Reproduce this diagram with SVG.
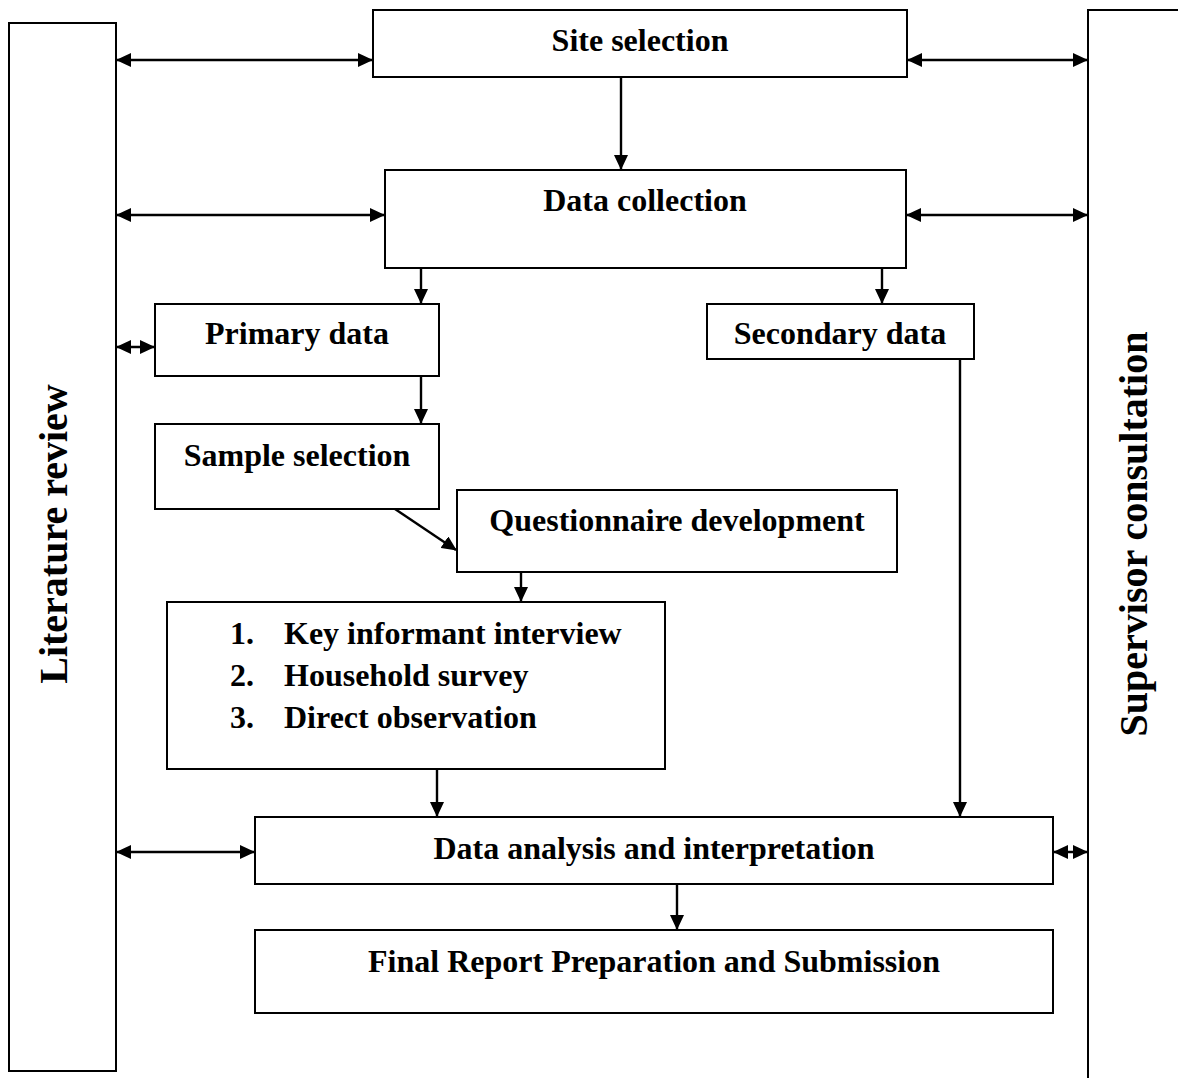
<svg xmlns="http://www.w3.org/2000/svg" width="1178" height="1078" viewBox="0 0 1178 1078">
<defs>
<marker id="ah" markerWidth="15" markerHeight="14" refX="14" refY="7" orient="auto-start-reverse" markerUnits="userSpaceOnUse">
<path d="M0,0 L15,7 L0,14 Z" fill="#000"/>
</marker>
<style>
rect{fill:#fff;stroke:#000;stroke-width:2}
text{font-family:"Liberation Serif","Times New Roman",serif;font-weight:bold;font-size:32px;fill:#000}
.c{text-anchor:middle}
.v{font-size:40px}
#connectors line{stroke:#000;stroke-width:2.4;fill:none}
</style>
</defs>
<rect x="0" y="0" width="1178" height="1078" style="stroke:none"/>
<g id="literature-review"><rect x="9" y="23" width="107" height="1048"/><text class="c v" transform="translate(67,534) rotate(-90)">Literature review</text></g>
<g id="supervisor-consultation"><rect x="1088" y="10" width="120" height="1090"/><text class="c v" transform="translate(1147,534) rotate(-90)">Supervisor consultation</text></g>
<g id="site-selection"><rect x="373" y="10" width="534" height="67"/><text class="c" x="640" y="51">Site selection</text></g>
<g id="data-collection"><rect x="385" y="170" width="521" height="98"/><text class="c" x="645" y="211">Data collection</text></g>
<g id="primary-data"><rect x="155" y="304" width="284" height="72"/><text class="c" x="297" y="344">Primary data</text></g>
<g id="secondary-data"><rect x="707" y="304" width="267" height="55"/><text class="c" x="840" y="344">Secondary data</text></g>
<g id="sample-selection"><rect x="155" y="424" width="284" height="85"/><text class="c" x="297" y="466">Sample selection</text></g>
<g id="questionnaire-development"><rect x="457" y="490" width="440" height="82"/><text class="c" x="677" y="531">Questionnaire development</text></g>
<g id="methods"><rect x="167" y="602" width="498" height="167"/>
<text x="230" y="644">1.</text><text x="284" y="644">Key informant interview</text>
<text x="230" y="686">2.</text><text x="284" y="686">Household survey</text>
<text x="230" y="728">3.</text><text x="284" y="728">Direct observation</text></g>
<g id="data-analysis"><rect x="255" y="817" width="798" height="67"/><text class="c" x="654" y="859">Data analysis and interpretation</text></g>
<g id="final-report"><rect x="255" y="930" width="798" height="83"/><text class="c" x="654" y="972">Final Report Preparation and Submission</text></g>
<g id="connectors">
<line x1="117" y1="60" x2="372" y2="60" marker-start="url(#ah)" marker-end="url(#ah)"/>
<line x1="908" y1="60" x2="1087" y2="60" marker-start="url(#ah)" marker-end="url(#ah)"/>
<line x1="621" y1="77" x2="621" y2="169" marker-end="url(#ah)"/>
<line x1="117" y1="215" x2="384" y2="215" marker-start="url(#ah)" marker-end="url(#ah)"/>
<line x1="907" y1="215" x2="1087" y2="215" marker-start="url(#ah)" marker-end="url(#ah)"/>
<line x1="421" y1="268" x2="421" y2="303" marker-end="url(#ah)"/>
<line x1="882" y1="268" x2="882" y2="303" marker-end="url(#ah)"/>
<line x1="117" y1="347" x2="154" y2="347" marker-start="url(#ah)" marker-end="url(#ah)"/>
<line x1="421" y1="376" x2="421" y2="423" marker-end="url(#ah)"/>
<line x1="395" y1="509" x2="456" y2="550" marker-end="url(#ah)"/>
<line x1="521" y1="572" x2="521" y2="601" marker-end="url(#ah)"/>
<line x1="437" y1="769" x2="437" y2="816" marker-end="url(#ah)"/>
<line x1="960" y1="359" x2="960" y2="816" marker-end="url(#ah)"/>
<line x1="117" y1="852" x2="254" y2="852" marker-start="url(#ah)" marker-end="url(#ah)"/>
<line x1="1054" y1="852" x2="1087" y2="852" marker-start="url(#ah)" marker-end="url(#ah)"/>
<line x1="677" y1="884" x2="677" y2="929" marker-end="url(#ah)"/>
</g>
</svg>
